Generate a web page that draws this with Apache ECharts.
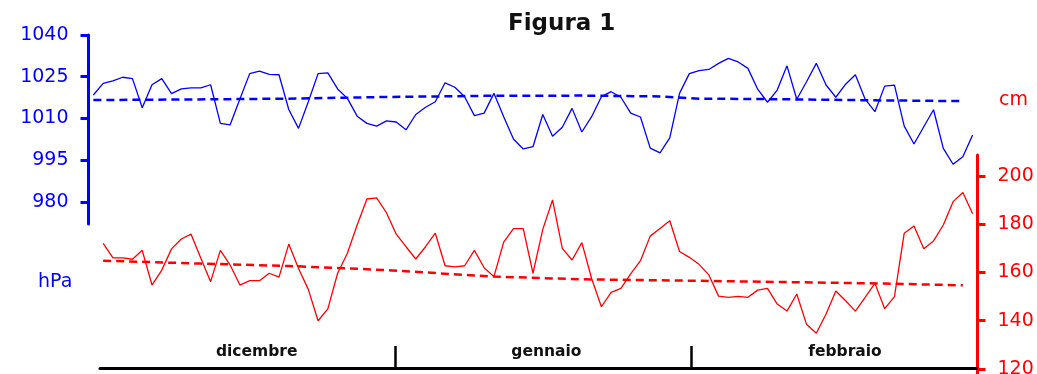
<!DOCTYPE html>
<html>
<head>
<meta charset="utf-8">
<script src="https://cdn.jsdelivr.net/npm/echarts@6/dist/echarts.min.js"></script>
<style>
  html, body { margin: 0; background: #fff; }
  #chart { width: 1037px; height: 374px; }
</style>
</head>
<body>
<div id="chart"></div>
<script>
// pressione giornaliera (hPa), 1 dic - 1 mar
const pressure = [
  1018.4, 1022.6, 1023.5, 1024.8, 1024.3, 1013.8, 1022.1, 1024.3, 1018.9, 1020.6,
  1021.0, 1021.0, 1022.1, 1008.2, 1007.7, 1017.0, 1026.1, 1027.0, 1025.8, 1025.7,
  1013.2, 1006.4, 1016.0, 1026.1, 1026.4, 1020.6, 1017.2, 1010.8, 1008.2, 1007.2,
  1009.1, 1008.7, 1005.9, 1011.4, 1014.0, 1016.0, 1022.8, 1021.2, 1017.8, 1011.0,
  1011.9, 1019.0, 1010.6, 1002.6, 999.0, 999.8, 1011.4, 1003.6, 1006.8, 1013.6,
  1005.1, 1010.6, 1017.8, 1019.6, 1017.6, 1011.9, 1010.5, 999.3, 997.6, 1003.0,
  1019.0, 1026.1, 1027.2, 1027.6, 1029.8, 1031.6, 1030.3, 1028.0, 1020.5, 1015.8,
  1020.2, 1028.9, 1016.9, 1023.2, 1029.8, 1022.0, 1017.6, 1022.3, 1025.7, 1016.9,
  1012.4, 1021.6, 1022.0, 1007.2, 1000.8, 1007.0, 1013.1, 999.2, 993.5, 996.2,
  1004.0
]

// livello (cm)
const level = [
  null, 172.1, 166.1, 166.1, 165.5, 169.2, 154.8, 161.0, 169.8, 173.9,
  175.9, 165.9, 156.2, 169.2, 163.1, 154.8, 156.6, 156.6, 159.7, 158.1,
  171.8, 161.7, 153.0, 140.0, 144.9, 159.7, 168.0, 179.7, 190.5, 191.0,
  184.8, 175.9, 170.7, 165.6, 170.7, 176.3, 162.8, 162.3, 162.8, 169.2,
  162.0, 158.3, 172.6, 178.2, 178.2, 159.7, 177.9, 190.1, 170.0, 165.2,
  172.4, 157.5, 145.8, 151.8, 153.4, 159.4, 164.9, 175.1, 178.3, 181.5,
  168.7, 166.3, 163.4, 159.0, 150.2, 149.7, 150.1, 149.7, 152.7, 153.4,
  146.9, 144.0, 151.1, 138.5, 134.8, 142.8, 152.3, 148.3, 144.0, 149.7,
  155.5, 145.0, 150.0, 176.3, 179.3, 169.9, 173.1, 179.7, 189.4, 193.2,
  184.4
]

// linee di tendenza, lette in alcuni punti
const pressureTrend = [
  [0, 1016.6], [10, 1016.8], [20, 1017.1], [30, 1017.7], [40, 1018.1],
  [50, 1018.2], [58, 1017.9], [62, 1017.1], [70, 1016.9], [80, 1016.5], [89, 1016.2]
]
const levelTrend = [
  [1, 164.9], [11, 163.7], [20, 162.7], [25, 161.9], [30, 161.0], [41, 158.3],
  [50, 157.2], [61, 156.6], [75, 155.8], [81, 155.4], [89, 154.7]
]

const months = ['dicembre', 'gennaio', 'febbraio']
const pressureTicks = [980, 995, 1010, 1025, 1040]
const levelTicks = [120, 140, 160, 180, 200]
const days = pressure.map((_, i) => i)

const BLUE = '#0000ff'
const RED = '#ff0000'
const numFont = { fontFamily: 'DejaVu Sans', fontSize: 19 }

const chart = echarts.init(document.getElementById('chart'))

chart.setOption({
  animation: false,
  backgroundColor: '#fff',
  title: {
    text: 'Figura 1',
    left: 503,
    top: 8,
    textStyle: { fontFamily: 'DejaVu Sans', fontWeight: 'bold', fontSize: 23, color: '#111' },
  },
  graphic: [
    { type: 'text', left: 38, top: 273, style: { text: 'hPa', fill: BLUE, font: '19px "DejaVu Sans"' } },
    { type: 'text', left: 999, top: 91, style: { text: 'cm', fill: RED, font: '19px "DejaVu Sans"' } },
  ],
  grid: [
    { left: 88.5, width: 889, top: 35, height: 189, outerBoundsMode: 'none' },
    { left: 88.5, width: 889, top: 155, height: 219, outerBoundsMode: 'none' },
    { left: 100, width: 878, top: 340, height: 28, outerBoundsMode: 'none' },
  ],
  xAxis: [
    { gridIndex: 0, type: 'category', data: days, boundaryGap: true, show: false },
    { gridIndex: 1, type: 'category', data: days, boundaryGap: true, show: false },
    {
      // mesi: separatori tra un mese e l'altro
      gridIndex: 2,
      type: 'value',
      min: 0,
      max: 2.97,
      axisLine: { show: true, lineStyle: { color: '#000', width: 3 } },
      axisTick: {
        show: true,
        inside: true,
        length: 22,
        customValues: [1, 2],
        lineStyle: { color: '#000', width: 2.5 },
      },
      axisLabel: {
        inside: true,
        margin: 8,
        customValues: [0.53, 1.51, 2.52],
        formatter: v => months[Math.floor(v)],
        fontFamily: 'DejaVu Sans',
        fontWeight: 'bold',
        fontSize: 15.5,
        color: '#111',
      },
      splitLine: { show: false },
    },
  ],
  yAxis: [
    {
      gridIndex: 0,
      type: 'value',
      position: 'left',
      min: 972,
      max: 1040,
      axisLine: { show: true, lineStyle: { color: BLUE, width: 3 } },
      axisTick: { show: true, length: 8, customValues: pressureTicks, lineStyle: { color: BLUE, width: 3 } },
      axisLabel: { customValues: pressureTicks, formatter: v => String(v), color: BLUE, margin: 20, ...numFont },
      splitLine: { show: false },
    },
    {
      gridIndex: 1,
      type: 'value',
      position: 'right',
      min: 117.9,
      max: 208.75,
      axisLine: { show: true, lineStyle: { color: RED, width: 3 } },
      axisTick: { show: true, length: 8, customValues: levelTicks, lineStyle: { color: RED, width: 3 } },
      axisLabel: { customValues: levelTicks, formatter: v => String(v), color: RED, margin: 20, ...numFont },
      splitLine: { show: false },
    },
    { gridIndex: 2, type: 'value', show: false },
  ],
  series: [
    {
      name: 'pressione',
      type: 'line',
      xAxisIndex: 0,
      yAxisIndex: 0,
      symbol: 'none',
      lineStyle: { color: BLUE, width: 1.3 },
      data: pressure,
    },
    {
      name: 'tendenza pressione',
      type: 'line',
      xAxisIndex: 0,
      yAxisIndex: 0,
      symbol: 'none',
      lineStyle: { color: BLUE, width: 2.5, type: [8, 5] },
      data: pressureTrend,
    },
    {
      name: 'livello',
      type: 'line',
      xAxisIndex: 1,
      yAxisIndex: 1,
      symbol: 'none',
      lineStyle: { color: RED, width: 1.3 },
      data: level,
    },
    {
      name: 'tendenza livello',
      type: 'line',
      xAxisIndex: 1,
      yAxisIndex: 1,
      symbol: 'none',
      lineStyle: { color: RED, width: 2.5, type: [8, 5] },
      data: levelTrend,
    },
  ],
})
</script>
</body>
</html>
